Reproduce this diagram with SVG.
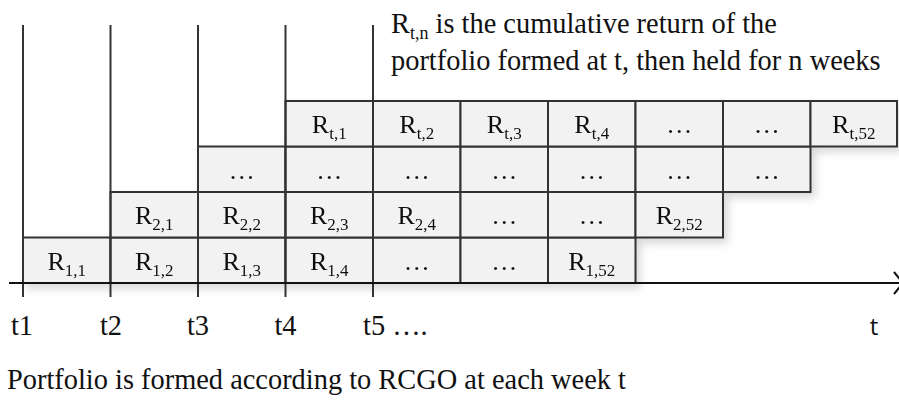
<svg xmlns="http://www.w3.org/2000/svg" width="899" height="401" viewBox="0 0 899 401">
<style>
.cell rect{fill:#f2f2f2;stroke:#333;stroke-width:2}
.lbl{font-family:"Liberation Serif","Times New Roman",serif;font-size:26px;fill:#111;text-anchor:middle}
.sub{font-size:17px}
.ser{font-family:"Liberation Serif","Times New Roman",serif;font-size:28.4px;fill:#111}
.tl{stroke:#333;stroke-width:2;fill:none}
</style>
<defs>
<filter id="sh" x="-10%" y="-10%" width="130%" height="140%">
<feDropShadow dx="4" dy="5" stdDeviation="4" flood-color="#000" flood-opacity="0.15"/>
</filter>
</defs>
<g id="cells" filter="url(#sh)">
<!-- row 1 -->
<g id="r1c1" class="cell"><rect x="23" y="237.5" width="87.5" height="45.5"/><text class="lbl" x="66.75" y="269.5">R<tspan class="sub" dy="6">1,1</tspan></text></g>
<g id="r1c2" class="cell"><rect x="110.5" y="237.5" width="87.5" height="45.5"/><text class="lbl" x="154.25" y="269.5">R<tspan class="sub" dy="6">1,2</tspan></text></g>
<g id="r1c3" class="cell"><rect x="198" y="237.5" width="87.5" height="45.5"/><text class="lbl" x="241.75" y="269.5">R<tspan class="sub" dy="6">1,3</tspan></text></g>
<g id="r1c4" class="cell"><rect x="285.5" y="237.5" width="87.5" height="45.5"/><text class="lbl" x="329.25" y="269.5">R<tspan class="sub" dy="6">1,4</tspan></text></g>
<g id="r1c5" class="cell"><rect x="373" y="237.5" width="87.5" height="45.5"/><text class="lbl" x="416.75" y="269.5">…</text></g>
<g id="r1c6" class="cell"><rect x="460.5" y="237.5" width="87.5" height="45.5"/><text class="lbl" x="504.25" y="269.5">…</text></g>
<g id="r1c7" class="cell"><rect x="548" y="237.5" width="87.5" height="45.5"/><text class="lbl" x="591.75" y="269.5">R<tspan class="sub" dy="6">1,52</tspan></text></g>
<!-- row 2 -->
<g id="r2c1" class="cell"><rect x="110.5" y="192" width="87.5" height="45.5"/><text class="lbl" x="154.25" y="224">R<tspan class="sub" dy="6">2,1</tspan></text></g>
<g id="r2c2" class="cell"><rect x="198" y="192" width="87.5" height="45.5"/><text class="lbl" x="241.75" y="224">R<tspan class="sub" dy="6">2,2</tspan></text></g>
<g id="r2c3" class="cell"><rect x="285.5" y="192" width="87.5" height="45.5"/><text class="lbl" x="329.25" y="224">R<tspan class="sub" dy="6">2,3</tspan></text></g>
<g id="r2c4" class="cell"><rect x="373" y="192" width="87.5" height="45.5"/><text class="lbl" x="416.75" y="224">R<tspan class="sub" dy="6">2,4</tspan></text></g>
<g id="r2c5" class="cell"><rect x="460.5" y="192" width="87.5" height="45.5"/><text class="lbl" x="504.25" y="224">…</text></g>
<g id="r2c6" class="cell"><rect x="548" y="192" width="87.5" height="45.5"/><text class="lbl" x="591.75" y="224">…</text></g>
<g id="r2c7" class="cell"><rect x="635.5" y="192" width="87.5" height="45.5"/><text class="lbl" x="679.25" y="224">R<tspan class="sub" dy="6">2,52</tspan></text></g>
<!-- row 3 -->
<g id="r3c1" class="cell"><rect x="198" y="146.5" width="87.5" height="45.5"/><text class="lbl" x="241.75" y="178.5">…</text></g>
<g id="r3c2" class="cell"><rect x="285.5" y="146.5" width="87.5" height="45.5"/><text class="lbl" x="329.25" y="178.5">…</text></g>
<g id="r3c3" class="cell"><rect x="373" y="146.5" width="87.5" height="45.5"/><text class="lbl" x="416.75" y="178.5">…</text></g>
<g id="r3c4" class="cell"><rect x="460.5" y="146.5" width="87.5" height="45.5"/><text class="lbl" x="504.25" y="178.5">…</text></g>
<g id="r3c5" class="cell"><rect x="548" y="146.5" width="87.5" height="45.5"/><text class="lbl" x="591.75" y="178.5">…</text></g>
<g id="r3c6" class="cell"><rect x="635.5" y="146.5" width="87.5" height="45.5"/><text class="lbl" x="679.25" y="178.5">…</text></g>
<g id="r3c7" class="cell"><rect x="723" y="146.5" width="87.5" height="45.5"/><text class="lbl" x="766.75" y="178.5">…</text></g>
<!-- row 4 -->
<g id="r4c1" class="cell"><rect x="285.5" y="101" width="87.5" height="45.5"/><text class="lbl" x="329.25" y="133">R<tspan class="sub" dy="6">t,1</tspan></text></g>
<g id="r4c2" class="cell"><rect x="373" y="101" width="87.5" height="45.5"/><text class="lbl" x="416.75" y="133">R<tspan class="sub" dy="6">t,2</tspan></text></g>
<g id="r4c3" class="cell"><rect x="460.5" y="101" width="87.5" height="45.5"/><text class="lbl" x="504.25" y="133">R<tspan class="sub" dy="6">t,3</tspan></text></g>
<g id="r4c4" class="cell"><rect x="548" y="101" width="87.5" height="45.5"/><text class="lbl" x="591.75" y="133">R<tspan class="sub" dy="6">t,4</tspan></text></g>
<g id="r4c5" class="cell"><rect x="635.5" y="101" width="87.5" height="45.5"/><text class="lbl" x="679.25" y="133">…</text></g>
<g id="r4c6" class="cell"><rect x="723" y="101" width="87.5" height="45.5"/><text class="lbl" x="766.75" y="133">…</text></g>
<g id="r4c7" class="cell"><rect x="810.5" y="101" width="86.5" height="45.5"/><text class="lbl" x="853.75" y="133">R<tspan class="sub" dy="6">t,52</tspan></text></g>
</g>
<g id="connectors">
<line class="tl" x1="23" y1="25" x2="23" y2="297"/>
<line class="tl" x1="110.5" y1="25" x2="110.5" y2="297"/>
<line class="tl" x1="198" y1="25" x2="198" y2="297"/>
<line class="tl" x1="285.5" y1="25" x2="285.5" y2="297"/>
<line class="tl" x1="373" y1="25" x2="373" y2="297"/>
<line x1="9" y1="283" x2="899" y2="283" stroke="#111" stroke-width="2"/>
<polyline points="894,272 903,283 894,294" fill="none" stroke="#111" stroke-width="2"/>
</g>
<g id="texts">
<text class="ser" x="391" y="33">R<tspan font-size="18" dy="6">t,n</tspan><tspan dy="-6"> is the cumulative return of the</tspan></text>
<text class="ser" x="391" y="70">portfolio formed at t, then held for n weeks</text>
<text class="ser" x="22" y="335" text-anchor="middle">t1</text>
<text class="ser" x="111" y="335" text-anchor="middle">t2</text>
<text class="ser" x="198" y="335" text-anchor="middle">t3</text>
<text class="ser" x="285.5" y="335" text-anchor="middle">t4</text>
<text class="ser" x="363" y="335">t5 ….</text>
<text x="874" y="335" text-anchor="middle" style="font-family:'Open Sans','Liberation Sans',sans-serif;font-size:24px;fill:#111">t</text>
<text class="ser" x="7" y="389">Portfolio is formed according to RCGO at each week t</text>
</g>
</svg>
